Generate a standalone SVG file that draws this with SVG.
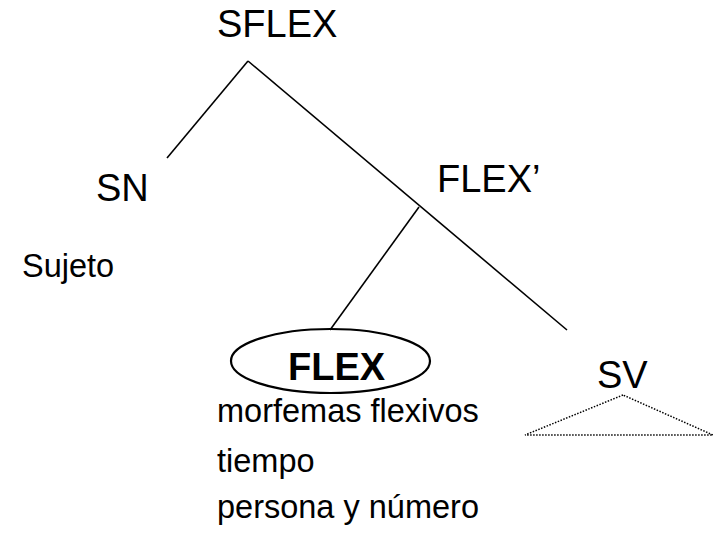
<svg xmlns="http://www.w3.org/2000/svg" width="714" height="541" viewBox="0 0 714 541">
<style>
.lbl{font-family:"Liberation Sans",Arial,sans-serif;font-size:38px;fill:#000}
.sm{font-family:"Liberation Sans",Arial,sans-serif;font-size:32.5px;fill:#000}
.edge{stroke:#000;stroke-width:1.6;fill:none}
.dot{stroke:#000;stroke-width:1.5;fill:none;stroke-dasharray:1.5 1.5}
</style>
<rect width="714" height="541" fill="#fff"/>
<g id="connectors">
<line class="edge" x1="248" y1="61" x2="167" y2="158"/>
<line class="edge" x1="248" y1="61" x2="567" y2="330"/>
<line class="edge" x1="419" y1="207" x2="330" y2="330"/>
</g>
<g id="SFLEX"><text class="lbl" x="217" y="37">SFLEX</text></g>
<g id="SN"><text class="lbl" x="96" y="201">SN</text></g>
<g id="Sujeto"><text class="sm" x="22" y="277">Sujeto</text></g>
<g id="FLEXbar"><text class="lbl" x="437" y="192">FLEX’</text></g>
<g id="FLEX">
<ellipse cx="330.5" cy="361" rx="99.5" ry="32" fill="none" stroke="#000" stroke-width="2.2"/>
<text class="lbl" x="288" y="380" font-weight="bold">FLEX</text>
</g>
<g id="FLEXfeatures">
<text class="sm" x="217" y="422">morfemas flexivos</text>
<text class="sm" x="217" y="472">tiempo</text>
<text class="sm" x="217" y="518">persona y número</text>
</g>
<g id="SV">
<text class="lbl" x="597" y="388">SV</text>
<polygon class="dot" points="623,395 525,435 713,435"/>
</g>
</svg>
